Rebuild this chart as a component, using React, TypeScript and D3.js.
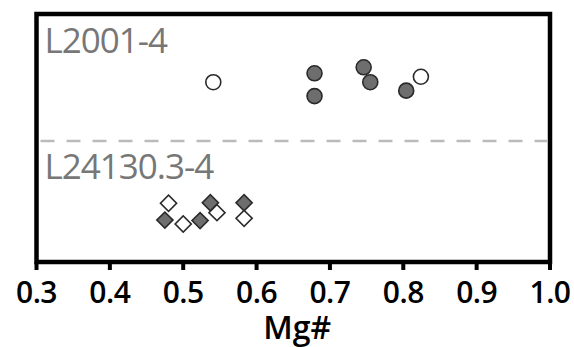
import React from 'react';
import * as d3 from 'd3';

// Mg# of the L2001-4 grains (circles) and L24130.3-4 grains (diamonds)
const circleMg = [0.541, 0.824, 0.679, 0.679, 0.746, 0.755, 0.804];
const circleRow = [7.25, 7.47, 7.61, 6.69, 7.85, 7.25, 6.91];
const circleFilled = [false, false, true, true, true, true, true];

const diamondMg = [0.480, 0.475, 0.500, 0.523, 0.537, 0.546, 0.583, 0.583];
const diamondRow = [2.37, 1.69, 1.53, 1.67, 2.39, 1.99, 2.39, 1.76];
const diamondFilled = [false, true, false, true, true, false, true, false];

const xTicks = [0.3, 0.4, 0.5, 0.6, 0.7, 0.8, 0.9, 1.0];
const groupLabels = ['L2001-4', 'L24130.3-4'];
const dividerRow = 4.88;

const W = 574, H = 347;
const margin = { top: 14, right: 24, bottom: 85, left: 36.5 };

export default function App() {
    const x = d3.scaleLinear()
        .domain([0.3, 1.0])
        .range([margin.left, W - margin.right]);
    const y = d3.scaleLinear()
        .domain([0, 10])
        .range([H - margin.bottom, margin.top]);

    const diamond = d3.symbol().type(d3.symbolSquare).size(130)();
    const font = "'Open Sans', sans-serif";
    const x0 = x(0.3), x1 = x(1.0), yTop = y(10), yBot = y(0);

    return (
        <svg width={W} height={H} style={{ position: 'absolute', left: 0, top: 0, background: '#fff' }}>
            {/* divider between the two samples */}
            <line x1={x0 + 4} x2={x1 - 3} y1={y(dividerRow)} y2={y(dividerRow)}
                stroke="#bbb" strokeWidth={2.5} strokeDasharray="14 12" />

            <text x={x0 + 8} y={53} fontFamily={font} fontSize={35} fill="#777" letterSpacing={-1}>{groupLabels[0]}</text>
            <text x={x0 + 8} y={179} fontFamily={font} fontSize={35} fill="#777" letterSpacing={-1}>{groupLabels[1]}</text>

            {circleMg.map((v, i) => (
                <circle key={'c' + i} cx={x(v)} cy={y(circleRow[i])} r={7.5}
                    fill={circleFilled[i] ? '#6e6e6e' : '#fff'} stroke="#2a2a2a" strokeWidth={1.6} />
            ))}
            {diamondMg.map((v, i) => (
                <path key={'d' + i} d={diamond}
                    transform={`translate(${x(v)},${y(diamondRow[i])}) rotate(45)`}
                    fill={diamondFilled[i] ? '#6e6e6e' : '#fff'} stroke="#2a2a2a" strokeWidth={1.6} />
            ))}

            {/* frame */}
            <rect x={x0} y={yTop} width={x1 - x0} height={yBot - yTop}
                fill="none" stroke="#000" strokeWidth={4.5} />

            {xTicks.map(t => (
                <g key={t} transform={`translate(${x(t)},0)`}>
                    <line y1={yBot} y2={yBot + 8} stroke="#000" strokeWidth={4} />
                    <text y={303} textAnchor="middle" fontFamily={font} fontSize={30} fontWeight={600}
                        letterSpacing={-0.5} fill="#000">{t.toFixed(1)}</text>
                </g>
            ))}
            <text x={(x0 + x1) / 2 + 4} y={339} textAnchor="middle" fontFamily={font} fontSize={32}
                fontWeight={600} fill="#000">Mg#</text>
        </svg>
    );
}
